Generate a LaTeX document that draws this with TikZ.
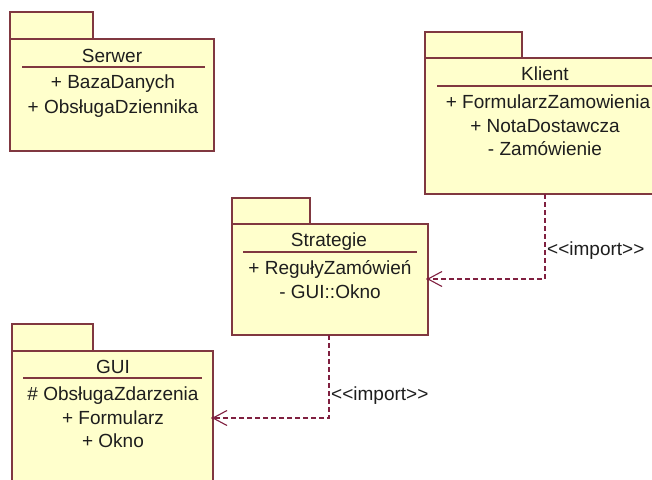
\documentclass[tikz,border=0pt]{standalone}
\usepackage{fontspec}
\setmainfont{Liberation Sans}
\usetikzlibrary{calc}
\definecolor{pkgfill}{RGB}{255,255,204}
\definecolor{pkgline}{RGB}{128,56,64}
\definecolor{depcol}{RGB}{128,32,64}
\definecolor{txtcol}{RGB}{30,30,30}
\begin{document}
\begin{tikzpicture}[x=1pt,y=-1pt,
  pkg/.style={draw=pkgline,fill=pkgfill,line width=1.3pt,inner sep=0pt,outer sep=0pt,anchor=north west},
  txt/.style={font=\fontsize{19}{22}\selectfont,text=txtcol,inner sep=0pt,anchor=base},
  rulel/.style={draw=pkgline,line width=1.2pt},
  dep/.style={draw=depcol,line width=1.3pt,dash pattern=on 5pt off 3pt},
  barb/.style={draw=depcol,line width=1.1pt}]
\useasboundingbox (0,0) rectangle (652,479);
\clip (0,0) rectangle (652,479);
\fill[white] (0,0) rectangle (652,479);

% Serwer
\node[pkg,minimum width=83pt,minimum height=27pt] (stab) at (10,12) {};
\node[pkg,minimum width=204pt,minimum height=112pt] (sbodyS) at (10,39) {};
\node[txt] (sname) at (112,62) {Serwer};
\draw[rulel] (22,67) -- (205,67);
\node[txt] (s1) at (113,88) {+ BazaDanych};
\node[txt] (s2) at (113,113) {+ ObsługaDziennika};

% Klient
\node[pkg,minimum width=97pt,minimum height=26pt] (ktab) at (425,32) {};
\node[pkg,minimum width=240pt,minimum height=136pt] (kbody) at (425,58) {};
\node[txt] (kname) at (545,80) {Klient};
\draw[rulel] (437,86) -- (660,86);
\node[txt] (k1) at (548,108) {+ FormularzZamowienia};
\node[txt] (k2) at (545,132) {+ NotaDostawcza};
\node[txt] (k3) at (545,155) {- Zamówienie};

% Strategie
\node[pkg,minimum width=78pt,minimum height=26pt] (sttab) at (232,198) {};
\node[pkg,minimum width=196pt,minimum height=111pt] (stbody) at (232,224) {};
\node[txt] (stname) at (329,246) {Strategie};
\draw[rulel] (243,252) -- (417,252);
\node[txt] (st1) at (330,274) {+ RegułyZamówień};
\node[txt] (st2) at (330,298) {- GUI::Okno};

% GUI
\node[pkg,minimum width=81pt,minimum height=27pt] (gtab) at (12,324) {};
\node[pkg,minimum width=201pt,minimum height=140pt] (gbody) at (12,351) {};
\node[txt] (gname) at (113,373) {GUI};
\draw[rulel] (23,378) -- (202,378);
\node[txt] (g1) at (113,400) {\# ObsługaZdarzenia};
\node[txt] (g2) at (113,424) {+ Formularz};
\node[txt] (g3) at (113,447) {+ Okno};

% Klient -> Strategie
\coordinate (b1) at (545,279);
\coordinate (t1) at (stbody.east |- b1);
\draw[dep] (b1 |- kbody.south) -- (b1) -- (t1);
\draw[barb] ($(t1)+(14,-7.5)$) -- (t1) -- ($(t1)+(14,7.5)$);
\fill[depcol] (t1) circle (1.8);
\node[txt,anchor=base west] (lab1) at (547,255) {<\kern0pt<import>\kern0pt>};

% Strategie -> GUI
\coordinate (b2) at (329,418);
\coordinate (t2) at (gbody.east |- b2);
\draw[dep] (b2 |- stbody.south) -- (b2) -- (t2);
\draw[barb] ($(t2)+(14,-7.5)$) -- (t2) -- ($(t2)+(14,7.5)$);
\fill[depcol] (t2) circle (1.8);
\node[txt,anchor=base west] (lab2) at (331,400) {<\kern0pt<import>\kern0pt>};
\end{tikzpicture}
\end{document}
